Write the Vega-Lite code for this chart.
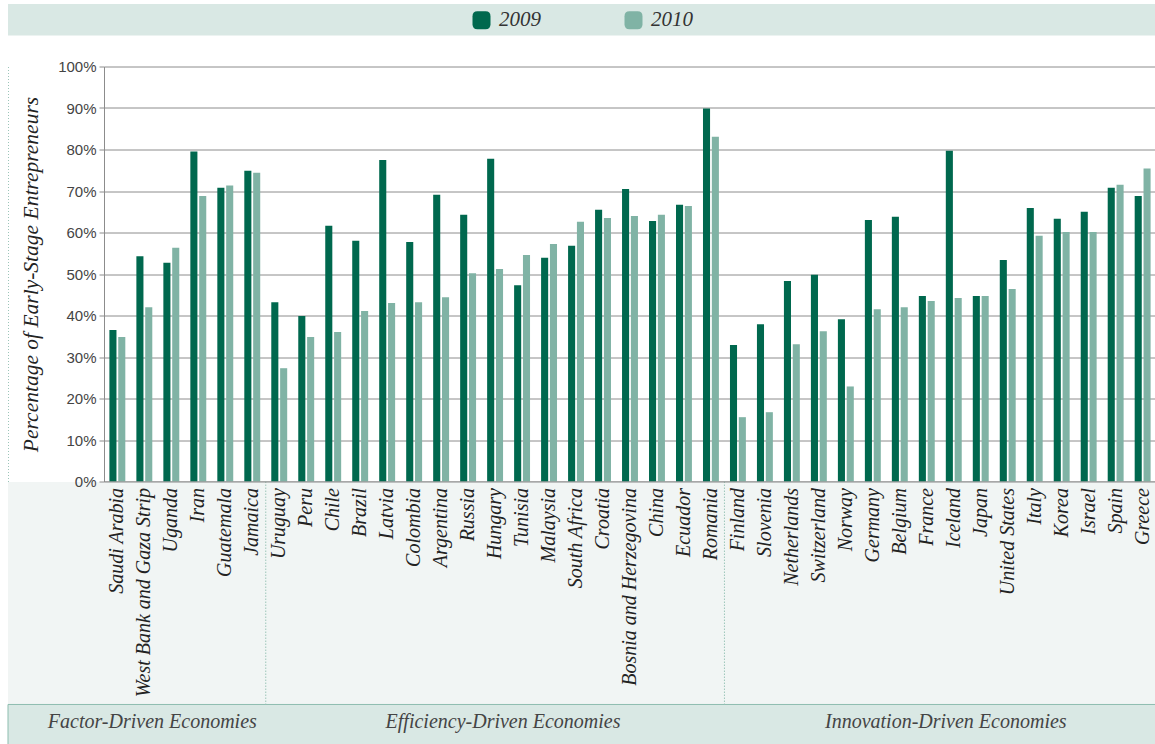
{
  "$schema": "https://vega.github.io/schema/vega-lite/v6.json",
  "width": 1148,
  "height": 415,
  "padding": {"left": 7, "top": 3.5, "right": 0, "bottom": 0},
  "background": "white",
  "config": {"view": {"stroke": null}},
  "datasets": {
    "bars": [
      {"country": "Saudi Arabia", "group": "Factor-Driven Economies", "year": "2009", "value": 36.5},
      {"country": "Saudi Arabia", "group": "Factor-Driven Economies", "year": "2010", "value": 34.8},
      {"country": "West Bank and Gaza Strip", "group": "Factor-Driven Economies", "year": "2009", "value": 54.3},
      {"country": "West Bank and Gaza Strip", "group": "Factor-Driven Economies", "year": "2010", "value": 42.0},
      {"country": "Uganda", "group": "Factor-Driven Economies", "year": "2009", "value": 52.7},
      {"country": "Uganda", "group": "Factor-Driven Economies", "year": "2010", "value": 56.3},
      {"country": "Iran", "group": "Factor-Driven Economies", "year": "2009", "value": 79.5},
      {"country": "Iran", "group": "Factor-Driven Economies", "year": "2010", "value": 68.8},
      {"country": "Guatemala", "group": "Factor-Driven Economies", "year": "2009", "value": 70.8},
      {"country": "Guatemala", "group": "Factor-Driven Economies", "year": "2010", "value": 71.3},
      {"country": "Jamaica", "group": "Factor-Driven Economies", "year": "2009", "value": 74.9},
      {"country": "Jamaica", "group": "Factor-Driven Economies", "year": "2010", "value": 74.4},
      {"country": "Uruguay", "group": "Efficiency-Driven Economies", "year": "2009", "value": 43.2},
      {"country": "Uruguay", "group": "Efficiency-Driven Economies", "year": "2010", "value": 27.3},
      {"country": "Peru", "group": "Efficiency-Driven Economies", "year": "2009", "value": 39.9},
      {"country": "Peru", "group": "Efficiency-Driven Economies", "year": "2010", "value": 34.8},
      {"country": "Chile", "group": "Efficiency-Driven Economies", "year": "2009", "value": 61.6},
      {"country": "Chile", "group": "Efficiency-Driven Economies", "year": "2010", "value": 36.0},
      {"country": "Brazil", "group": "Efficiency-Driven Economies", "year": "2009", "value": 58.0},
      {"country": "Brazil", "group": "Efficiency-Driven Economies", "year": "2010", "value": 41.1},
      {"country": "Latvia", "group": "Efficiency-Driven Economies", "year": "2009", "value": 77.5},
      {"country": "Latvia", "group": "Efficiency-Driven Economies", "year": "2010", "value": 43.0},
      {"country": "Colombia", "group": "Efficiency-Driven Economies", "year": "2009", "value": 57.7},
      {"country": "Colombia", "group": "Efficiency-Driven Economies", "year": "2010", "value": 43.2},
      {"country": "Argentina", "group": "Efficiency-Driven Economies", "year": "2009", "value": 69.1},
      {"country": "Argentina", "group": "Efficiency-Driven Economies", "year": "2010", "value": 44.4},
      {"country": "Russia", "group": "Efficiency-Driven Economies", "year": "2009", "value": 64.3},
      {"country": "Russia", "group": "Efficiency-Driven Economies", "year": "2010", "value": 50.2},
      {"country": "Hungary", "group": "Efficiency-Driven Economies", "year": "2009", "value": 77.8},
      {"country": "Hungary", "group": "Efficiency-Driven Economies", "year": "2010", "value": 51.2},
      {"country": "Tunisia", "group": "Efficiency-Driven Economies", "year": "2009", "value": 47.3},
      {"country": "Tunisia", "group": "Efficiency-Driven Economies", "year": "2010", "value": 54.6},
      {"country": "Malaysia", "group": "Efficiency-Driven Economies", "year": "2009", "value": 53.9},
      {"country": "Malaysia", "group": "Efficiency-Driven Economies", "year": "2010", "value": 57.2},
      {"country": "South Africa", "group": "Efficiency-Driven Economies", "year": "2009", "value": 56.8},
      {"country": "South Africa", "group": "Efficiency-Driven Economies", "year": "2010", "value": 62.6},
      {"country": "Croatia", "group": "Efficiency-Driven Economies", "year": "2009", "value": 65.5},
      {"country": "Croatia", "group": "Efficiency-Driven Economies", "year": "2010", "value": 63.5},
      {"country": "Bosnia and Herzegovina", "group": "Efficiency-Driven Economies", "year": "2009", "value": 70.5},
      {"country": "Bosnia and Herzegovina", "group": "Efficiency-Driven Economies", "year": "2010", "value": 64.0},
      {"country": "China", "group": "Efficiency-Driven Economies", "year": "2009", "value": 62.8},
      {"country": "China", "group": "Efficiency-Driven Economies", "year": "2010", "value": 64.3},
      {"country": "Ecuador", "group": "Efficiency-Driven Economies", "year": "2009", "value": 66.7},
      {"country": "Ecuador", "group": "Efficiency-Driven Economies", "year": "2010", "value": 66.4},
      {"country": "Romania", "group": "Efficiency-Driven Economies", "year": "2009", "value": 89.9},
      {"country": "Romania", "group": "Efficiency-Driven Economies", "year": "2010", "value": 83.1},
      {"country": "Finland", "group": "Innovation-Driven Economies", "year": "2009", "value": 32.9},
      {"country": "Finland", "group": "Innovation-Driven Economies", "year": "2010", "value": 15.5},
      {"country": "Slovenia", "group": "Innovation-Driven Economies", "year": "2009", "value": 37.9},
      {"country": "Slovenia", "group": "Innovation-Driven Economies", "year": "2010", "value": 16.7},
      {"country": "Netherlands", "group": "Innovation-Driven Economies", "year": "2009", "value": 48.3},
      {"country": "Netherlands", "group": "Innovation-Driven Economies", "year": "2010", "value": 33.1},
      {"country": "Switzerland", "group": "Innovation-Driven Economies", "year": "2009", "value": 49.8},
      {"country": "Switzerland", "group": "Innovation-Driven Economies", "year": "2010", "value": 36.2},
      {"country": "Norway", "group": "Innovation-Driven Economies", "year": "2009", "value": 39.1},
      {"country": "Norway", "group": "Innovation-Driven Economies", "year": "2010", "value": 22.9},
      {"country": "Germany", "group": "Innovation-Driven Economies", "year": "2009", "value": 63.0},
      {"country": "Germany", "group": "Innovation-Driven Economies", "year": "2010", "value": 41.5},
      {"country": "Belgium", "group": "Innovation-Driven Economies", "year": "2009", "value": 63.8},
      {"country": "Belgium", "group": "Innovation-Driven Economies", "year": "2010", "value": 42.0},
      {"country": "France", "group": "Innovation-Driven Economies", "year": "2009", "value": 44.7},
      {"country": "France", "group": "Innovation-Driven Economies", "year": "2010", "value": 43.5},
      {"country": "Iceland", "group": "Innovation-Driven Economies", "year": "2009", "value": 79.7},
      {"country": "Iceland", "group": "Innovation-Driven Economies", "year": "2010", "value": 44.2},
      {"country": "Japan", "group": "Innovation-Driven Economies", "year": "2009", "value": 44.7},
      {"country": "Japan", "group": "Innovation-Driven Economies", "year": "2010", "value": 44.7},
      {"country": "United States", "group": "Innovation-Driven Economies", "year": "2009", "value": 53.4},
      {"country": "United States", "group": "Innovation-Driven Economies", "year": "2010", "value": 46.4},
      {"country": "Italy", "group": "Innovation-Driven Economies", "year": "2009", "value": 65.9},
      {"country": "Italy", "group": "Innovation-Driven Economies", "year": "2010", "value": 59.2},
      {"country": "Korea", "group": "Innovation-Driven Economies", "year": "2009", "value": 63.3},
      {"country": "Korea", "group": "Innovation-Driven Economies", "year": "2010", "value": 60.1},
      {"country": "Israel", "group": "Innovation-Driven Economies", "year": "2009", "value": 65.0},
      {"country": "Israel", "group": "Innovation-Driven Economies", "year": "2010", "value": 60.1},
      {"country": "Spain", "group": "Innovation-Driven Economies", "year": "2009", "value": 70.8},
      {"country": "Spain", "group": "Innovation-Driven Economies", "year": "2010", "value": 71.5},
      {"country": "Greece", "group": "Innovation-Driven Economies", "year": "2009", "value": 68.8},
      {"country": "Greece", "group": "Innovation-Driven Economies", "year": "2010", "value": 75.4}
    ],
    "separators": [{"country": "Uruguay"}, {"country": "Finland"}],
    "groupsA": [
      {"country": "West Bank and Gaza Strip", "label": "Factor-Driven Economies"},
      {"country": "Hungary", "label": "Efficiency-Driven Economies"}
    ],
    "groupsB": [
      {"country": "Iceland", "label": "Innovation-Driven Economies"}
    ],
    "one": [{"k": 1}]
  },
  "resolve": {"scale": {"y": "shared"}, "axis": {"y": "independent"}},
  "layer": [
    {
      "data": {"name": "one"},
      "mark": {"type": "rect", "fill": "#d9e8e4"},
      "encoding": {
        "y": {"datum": 115.06, "type": "quantitative",
          "scale": {"domain": [0, 100], "nice": false, "zero": false},
          "axis": {"orient": "left", "offset": 0, "labels": false, "ticks": false, "grid": false, "domain": true, "domainDash": [1, 2], "domainColor": "#9cc5b9", "domainWidth": 1, "title": null}},
        "y2": {"datum": 107.47}
      }
    },
    {
      "data": {"name": "one"},
      "mark": {"type": "rect", "fill": "#f1f5f4"},
      "encoding": {
        "y": {"datum": -0.1, "type": "quantitative",
          "axis": {"orient": "left", "offset": -96, "grid": false, "values": [0, 10, 20, 30, 40, 50, 60, 70, 80, 90, 100],
            "labelExpr": "datum.value + '%'", "labelFont": "Liberation Sans", "labelFontSize": 15, "labelColor": "#444444",
            "ticks": true, "tickSize": 5, "tickColor": "#8c8c8c", "domain": true, "domainColor": "#8c8c8c",
            "labelPadding": 3, "title": "Percentage of Early-Stage Entrepreneurs", "titleFont": "Liberation Serif",
            "titleFontStyle": "italic", "titleFontWeight": "normal", "titleFontSize": 21.5, "titleColor": "#222222",
            "titlePadding": 15, "zindex": 1}},
        "y2": {"datum": -53.73}
      }
    },
    {
      "data": {"name": "one"},
      "mark": {"type": "rect", "fill": "#d9e8e4", "stroke": "#8dbdaf", "strokeWidth": 1},
      "encoding": {
        "y": {"datum": -53.73, "type": "quantitative", "axis": null},
        "y2": {"datum": -63.4}
      }
    },
    {
      "data": {"name": "bars"},
      "mark": {"type": "bar"},
      "encoding": {
        "x": {"field": "country", "type": "nominal",
          "scale": {"domain": ["Saudi Arabia", "West Bank and Gaza Strip", "Uganda", "Iran", "Guatemala", "Jamaica", "Uruguay", "Peru", "Chile", "Brazil", "Latvia", "Colombia", "Argentina", "Russia", "Hungary", "Tunisia", "Malaysia", "South Africa", "Croatia", "Bosnia and Herzegovina", "China", "Ecuador", "Romania", "Finland", "Slovenia", "Netherlands", "Switzerland", "Norway", "Germany", "Belgium", "France", "Iceland", "Japan", "United States", "Italy", "Korea", "Israel", "Spain", "Greece"],
            "range": [96, 1148], "paddingInner": 0.41, "paddingOuter": 0.2},
          "axis": {"title": null, "labelAngle": -90, "labelFont": "Liberation Serif", "labelFontStyle": "italic", "labelFontSize": 20,
            "labelColor": "#222222", "labelPadding": 6, "labelLimit": 400, "ticks": false, "domain": true, "domainColor": "#8a8a8a", "domainWidth": 1, "zindex": 1}},
        "xOffset": {"field": "year", "type": "nominal", "scale": {"paddingInner": 0.2}},
        "y": {"field": "value", "type": "quantitative",
          "axis": {"orient": "left", "offset": -96, "grid": true, "gridColor": "#8c8c8c", "gridWidth": 1, "values": [0, 10, 20, 30, 40, 50, 60, 70, 80, 90, 100],
            "labels": false, "ticks": false, "domain": false, "title": null, "zindex": 0}},
        "color": {"field": "year", "type": "nominal",
          "scale": {"domain": ["2009", "2010"], "range": ["#00684e", "#80b3a5"]},
          "legend": {"orient": "none", "legendX": 463, "legendY": -57, "direction": "horizontal", "title": null,
            "symbolType": "M-0.45,-1L0.45,-1Q1,-1 1,-0.45L1,0.45Q1,1 0.45,1L-0.45,1Q-1,1 -1,0.45L-1,-0.45Q-1,-1 -0.45,-1Z",
            "symbolSize": 324, "symbolStrokeWidth": 0, "labelFont": "Liberation Serif", "labelFontStyle": "italic",
            "labelFontSize": 21, "labelColor": "#333333", "columnPadding": 82, "labelOffset": 7, "padding": 0}}
      }
    },
    {
      "data": {"name": "separators"},
      "mark": {"type": "rule", "stroke": "#9cc5b9", "strokeWidth": 1, "strokeDash": [1.5, 1.5]},
      "encoding": {
        "x": {"field": "country", "type": "nominal", "bandPosition": -0.347},
        "y": {"datum": 0, "type": "quantitative", "axis": null},
        "y2": {"datum": -53.73}
      }
    },
    {
      "data": {"name": "groupsA"},
      "mark": {"type": "text", "font": "Liberation Serif", "fontStyle": "italic", "fontSize": 20, "color": "#444444", "baseline": "middle", "align": "center"},
      "encoding": {
        "x": {"field": "country", "type": "nominal", "bandPosition": 1.0},
        "y": {"datum": -58.07, "type": "quantitative", "axis": null},
        "text": {"field": "label"}
      }
    },
    {
      "data": {"name": "groupsB"},
      "mark": {"type": "text", "font": "Liberation Serif", "fontStyle": "italic", "fontSize": 20, "color": "#444444", "baseline": "middle", "align": "center"},
      "encoding": {
        "x": {"field": "country", "type": "nominal", "bandPosition": 0.0},
        "y": {"datum": -58.07, "type": "quantitative", "axis": null},
        "text": {"field": "label"}
      }
    }
  ]
}
